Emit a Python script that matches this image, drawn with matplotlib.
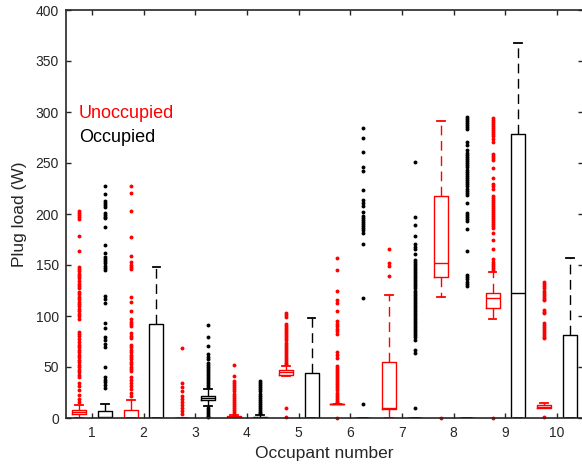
import numpy as np
import matplotlib
matplotlib.use('Agg')
import matplotlib.pyplot as plt

plt.rcParams['font.family'] = ['Liberation Sans', 'DejaVu Sans']

# occupant index and the box summary
occupants = [1, 2, 3, 4, 5, 6, 7, 8, 9, 10]

# unoccupied (red) boxes: q1, median, q3, lower whisker, upper whisker
unocc_q1 = [4, 0, 0, 0, 42, 14, 9, 138, 107.5, 9.5]
unocc_med = [6, 0, 0, 0.5, 45, 14, 9.5, 152, 118, 11]
unocc_q3 = [8, 7.8, 0, 1.5, 47, 14, 55, 218, 123, 13]
unocc_lo = [0, 0, 0, 0, 41, 14, 0, 119, 97, 9.5]
unocc_hi = [13, 17.6, 0, 3, 51, 14, 121, 291.5, 143, 14.4]

# occupied (black) boxes
occ_q1 = [0, 0, 17.6, 0, 0, 0, 0, 0, 0, 0]
occ_med = [0.5, 0, 20, 0, 0, 0, 0, 0, 123, 0]
occ_q3 = [7, 92.5, 22, 1, 44.5, 0, 0, 0, 278, 81.4]
occ_lo = [0, 0, 12, 0, 0, 0, 0, 0, 0, 0]
occ_hi = [13.4, 148, 28, 3, 98, 0, 0, 0, 368, 157]

# outliers, one list per occupant
unocc_out = [
    [203, 201, 199, 197, 195, 178, 164, 148, 146, 144, 141, 139, 137, 134, 131, 129,
     127, 124, 122, 119, 117, 114, 112, 110, 107, 105, 102, 100, 97, 84, 82, 80, 77,
     75, 72, 70, 67, 65, 62, 60, 57, 55, 52, 50, 47, 45, 42, 40, 34, 31, 27, 23, 19, 16],
    [227, 221, 203, 177, 159, 153, 150, 148, 146, 119, 114, 105, 97, 94, 92, 90, 83,
     80, 78, 72, 70, 67, 65, 62, 60, 58, 55, 53, 50, 48, 46, 40, 37, 34, 31, 28, 25, 22],
    [69, 34, 30, 26, 22, 19, 16, 13, 10, 7, 4],
    [52, 41, 36, 34, 32, 30, 28, 26, 24, 22, 20, 18, 16, 14, 12, 10, 8, 6, 4],
    [103, 101, 99, 92, 90, 88, 86, 84, 82, 80, 78, 76, 74, 72, 70, 68, 66, 64, 62,
     60, 58, 56, 54, 52.5, 9.5, 0.7],
    [157, 145, 124.5, 116, 113, 105, 95, 92, 90, 87, 85, 82, 65, 62, 59, 51, 49, 47,
     45, 43, 41, 39, 37, 35, 33, 31, 29, 27, 25, 23, 21, 19, 17, 15.5, 0],
    [166, 152, 149, 139.5],
    [0],
    [294, 292, 290, 288, 286, 284, 282, 280, 278, 276, 274, 271, 259, 257, 255, 253,
     245, 235, 229, 227, 225, 218, 216, 214, 212, 210, 208, 206, 204, 202, 200, 198,
     196, 194, 192, 190, 188, 186, 181.5, 174.5, 166, 155.5, 153, 151, 149, 147, 145, 0],
    [133, 131, 129, 127, 125, 123, 121, 119, 117, 115.5, 106, 104, 102.5, 93.5, 91.5,
     89.5, 87, 85, 83, 81, 79, 78, 0.7],
]
occ_out = [
    [227, 220, 213, 211, 209, 207, 201, 199, 197, 196, 187, 170, 162, 158, 156, 154,
     152, 149, 147, 145, 120, 117, 113, 93, 88, 79, 76, 73, 70, 50, 40, 37, 35, 32, 29],
    [],
    [91, 79, 71, 63, 60, 58, 54, 52, 50, 48, 46, 44, 42, 40, 38, 36, 34, 32, 30,
     9.5, 8, 6, 4, 2, 0.5],
    [36, 34, 32, 30, 28, 26, 24, 22, 20, 18, 16, 14, 12, 10, 8, 6, 4.5],
    [],
    [284, 275, 261, 246, 242, 224, 214, 211, 208, 202, 198, 196, 194, 192, 190, 188,
     186, 184, 181, 170.5, 118, 14],
    [251, 197, 189, 178, 171, 168, 166, 161, 155, 153, 151, 149, 147, 145, 143, 141,
     139, 137, 135, 133, 131, 129, 127, 125, 123, 121, 119, 117, 115, 113, 111, 109,
     107, 105, 103, 101, 99, 97, 95, 93, 91, 89, 87, 85, 83, 81, 79, 76, 67, 63.5, 9.5],
    [295, 293, 291, 289, 287, 285, 283, 271, 268, 263, 260, 258, 256, 254, 252, 250,
     248, 246, 243, 241, 239, 237, 235, 233, 231, 229, 227, 225, 223, 221, 219, 211,
     201, 199, 197, 195, 193, 185, 164, 140, 138, 136, 133, 131, 129],
    [],
    [],
]


def make_stats(q1, med, q3, lo, hi, out):
    # build the dicts that ax.bxp wants
    stats = []
    for ii in range(len(q1)):
        stats.append(dict(q1=q1[ii], med=med[ii], q3=q3[ii],
                          whislo=lo[ii], whishi=hi[ii], fliers=out[ii]))
    return stats


def draw_group(ax, stats, pos, col):
    res = ax.bxp(stats, positions=pos, widths=0.27, capwidths=0.15,
                 showfliers=True, manage_ticks=False,
                 boxprops=dict(color=col, linewidth=1.0),
                 medianprops=dict(color=col, linewidth=1.0),
                 whiskerprops=dict(color=col, linewidth=1.0, linestyle=(0, (7, 4))),
                 capprops=dict(color=col, linewidth=1.3),
                 flierprops=dict(marker='o', markersize=2.8, markerfacecolor=col,
                                 markeredgecolor='none', linestyle='none'))
    for fl in res['fliers']:
        fl.set_clip_on(False)
    return res


fig = plt.figure(figsize=(5.82, 4.72), dpi=100)
ax = fig.add_axes([66/582, 54/472, 517/582, 408/472])

pos = np.array(occupants, dtype=float)
draw_group(ax, make_stats(unocc_q1, unocc_med, unocc_q3, unocc_lo, unocc_hi, unocc_out),
           pos - 0.25, 'red')
draw_group(ax, make_stats(occ_q1, occ_med, occ_q3, occ_lo, occ_hi, occ_out),
           pos + 0.25, 'black')

ax.set_xlim(0.5, 10.5)
ax.set_ylim(0, 400)
ax.set_xticks(occupants)
ax.set_xticklabels([str(o) for o in occupants])
ax.set_yticks(np.arange(0, 401, 50))

dark = '#262626'
for sp in ax.spines.values():
    sp.set_color(dark)
    sp.set_linewidth(1.2)
ax.tick_params(direction='in', top=True, right=True, length=3.6, width=1.0,
               colors=dark, labelsize=10)
ax.tick_params(axis='x', pad=6)
ax.tick_params(axis='y', pad=5)

ax.set_xlabel('Occupant number', fontsize=12.5, color=dark, labelpad=4)
ax.set_ylabel('Plug load (W)', fontsize=12.5, color=dark, labelpad=6)

ax.text(0.75, 299, 'Unoccupied', color='red', fontsize=13, va='center', ha='left')
ax.text(0.75, 275, 'Occupied', color='black', fontsize=13, va='center', ha='left')

fig.savefig('out.png', dpi=100)
